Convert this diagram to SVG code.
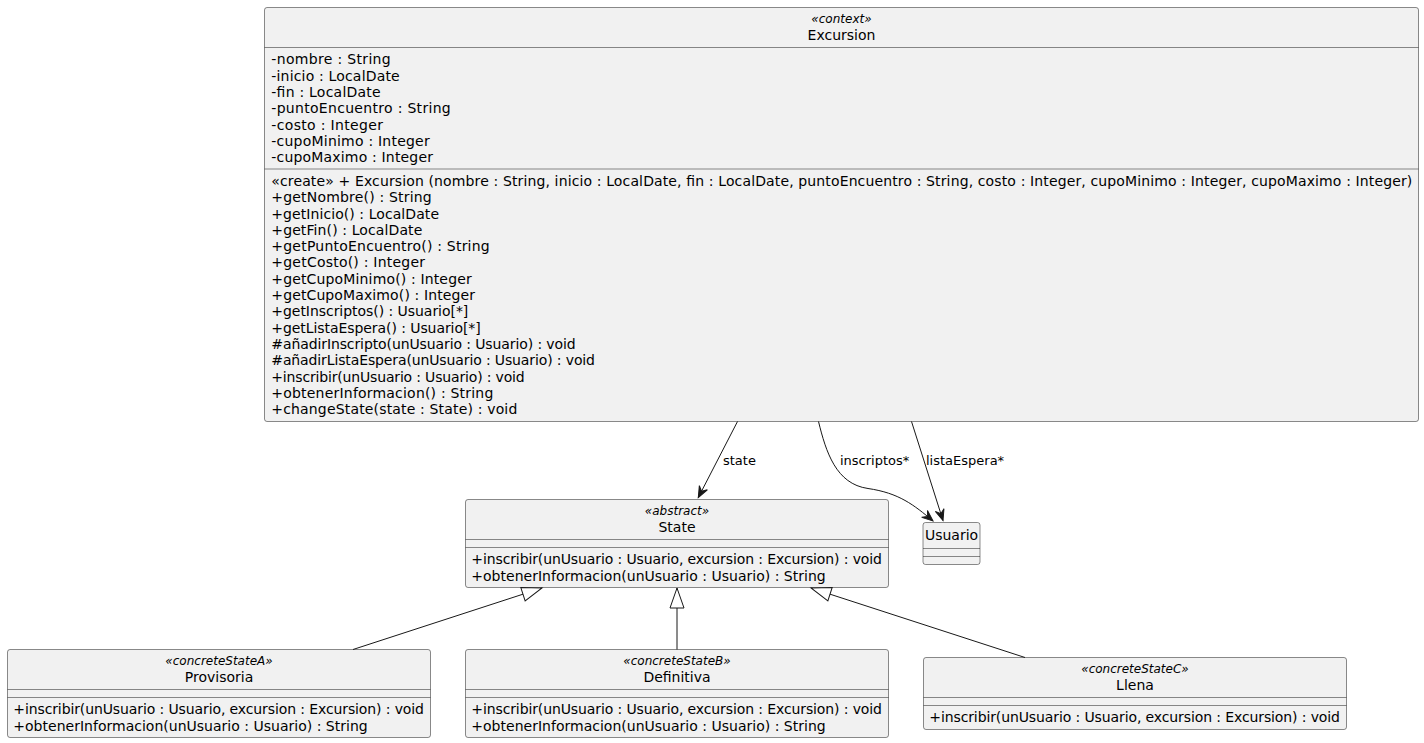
<svg xmlns="http://www.w3.org/2000/svg" width="1424" height="743" viewBox="0 0 1424 743">
  <style>
    .box { fill: #F1F1F1; stroke: #181818; stroke-width: 0.5; }
    .sep { stroke: #181818; stroke-width: 0.5; }
    .t { font-family: "DejaVu Sans", "Liberation Sans", sans-serif; font-size: 14px; fill: #000000; }
    .st { font-family: "DejaVu Sans", "Liberation Sans", sans-serif; font-size: 12px; font-style: italic; fill: #000000; }
    .c { text-anchor: middle; }
    .lbl { font-family: "DejaVu Sans", "Liberation Sans", sans-serif; font-size: 13px; fill: #000000; }
    .edge { fill: none; stroke: #181818; stroke-width: 1; }
    .assoc { marker-end: url(#vee); }
    .gen { marker-end: url(#tri); }
  </style>
  <defs>
    <marker id="vee" markerUnits="userSpaceOnUse" markerWidth="12" markerHeight="10" refX="11" refY="4.5" orient="auto" overflow="visible">
      <path d="M0,0 L11,4.5 L0,9 L4,4.5 Z" fill="#181818" stroke="#181818" stroke-width="1"/>
    </marker>
    <marker id="tri" markerUnits="userSpaceOnUse" markerWidth="22" markerHeight="16" refX="20" refY="7" orient="auto" overflow="visible">
      <path d="M0,0 L20,7 L0,14 Z" fill="#FFFFFF" stroke="#181818" stroke-width="1"/>
    </marker>
  </defs>
  <rect width="1424" height="743" fill="#FFFFFF"/>

  <!-- Excursion (context) -->
  <g id="excursion">
    <rect class="box" x="264.5" y="7.5" width="1154" height="414" rx="2.5"/>
    <text class="st c" x="841.5" y="23">«context»</text>
    <text class="t c" x="841.5" y="39.5">Excursion</text>
    <line class="sep" x1="264.5" y1="47.5" x2="1418.5" y2="47.5"/>
    <text class="t" x="271.3" y="64.4" textLength="119.4">-nombre : String</text>
    <text class="t" x="271.3" y="80.7" textLength="128.4">-inicio : LocalDate</text>
    <text class="t" x="271.3" y="97" textLength="109.4">-fin : LocalDate</text>
    <text class="t" x="271.3" y="113.3" textLength="179.4">-puntoEncuentro : String</text>
    <text class="t" x="271.3" y="129.6" textLength="111.7">-costo : Integer</text>
    <text class="t" x="271.3" y="145.9" textLength="158.4">-cupoMinimo : Integer</text>
    <text class="t" x="271.3" y="162.2" textLength="161.7">-cupoMaximo : Integer</text>
    <line class="sep" x1="264.5" y1="169" x2="1418.5" y2="169"/>
    <text class="t" x="271.3" y="185.9" textLength="1141">«create» + Excursion (nombre : String, inicio : LocalDate, fin : LocalDate, puntoEncuentro : String, costo : Integer, cupoMinimo : Integer, cupoMaximo : Integer)</text>
    <text class="t" x="271.3" y="202.2" textLength="160.4">+getNombre() : String</text>
    <text class="t" x="271.3" y="218.5" textLength="167.7">+getInicio() : LocalDate</text>
    <text class="t" x="271.3" y="234.8" textLength="151">+getFin() : LocalDate</text>
    <text class="t" x="271.3" y="251.1" textLength="218.4">+getPuntoEncuentro() : String</text>
    <text class="t" x="271.3" y="267.4" textLength="153.7">+getCosto() : Integer</text>
    <text class="t" x="271.3" y="283.7" textLength="200.4">+getCupoMinimo() : Integer</text>
    <text class="t" x="271.3" y="300" textLength="203.7">+getCupoMaximo() : Integer</text>
    <text class="t" x="271.3" y="316.3" textLength="197">+getInscriptos() : Usuario[*]</text>
    <text class="t" x="271.3" y="332.6" textLength="209.4">+getListaEspera() : Usuario[*]</text>
    <text class="t" x="271.3" y="348.9" textLength="304.4">#añadirInscripto(unUsuario : Usuario) : void</text>
    <text class="t" x="271.3" y="365.2" textLength="323.7">#añadirListaEspera(unUsuario : Usuario) : void</text>
    <text class="t" x="271.3" y="381.5" textLength="253.4">+inscribir(unUsuario : Usuario) : void</text>
    <text class="t" x="271.3" y="397.8" textLength="222">+obtenerInformacion() : String</text>
    <text class="t" x="271.3" y="414.1" textLength="246">+changeState(state : State) : void</text>
  </g>

  <!-- State (abstract) -->
  <g id="state">
    <rect class="box" x="465.5" y="499.5" width="423" height="88" rx="2.5"/>
    <text class="st c" x="677" y="515">«abstract»</text>
    <text class="t c" x="677" y="531.5">State</text>
    <line class="sep" x1="465.5" y1="539.5" x2="888.5" y2="539.5"/>
    <line class="sep" x1="465.5" y1="547.5" x2="888.5" y2="547.5"/>
    <text class="t" x="471.3" y="564.4" textLength="410.7">+inscribir(unUsuario : Usuario, excursion : Excursion) : void</text>
    <text class="t" x="471.3" y="580.7" textLength="354.4">+obtenerInformacion(unUsuario : Usuario) : String</text>
  </g>

  <!-- Usuario -->
  <g id="usuario">
    <rect class="box" x="923" y="522.5" width="57" height="42" rx="2.5"/>
    <text class="t c" x="951.5" y="540">Usuario</text>
    <line class="sep" x1="923" y1="548.5" x2="980" y2="548.5"/>
    <line class="sep" x1="923" y1="556.5" x2="980" y2="556.5"/>
  </g>

  <!-- Provisoria -->
  <g id="provisoria">
    <rect class="box" x="7.5" y="649.5" width="423" height="88" rx="2.5"/>
    <text class="st c" x="219" y="665">«concreteStateA»</text>
    <text class="t c" x="219" y="681.5">Provisoria</text>
    <line class="sep" x1="7.5" y1="689.5" x2="430.5" y2="689.5"/>
    <line class="sep" x1="7.5" y1="697.5" x2="430.5" y2="697.5"/>
    <text class="t" x="13.3" y="714.4" textLength="410.7">+inscribir(unUsuario : Usuario, excursion : Excursion) : void</text>
    <text class="t" x="13.3" y="730.7" textLength="354.4">+obtenerInformacion(unUsuario : Usuario) : String</text>
  </g>

  <!-- Definitiva -->
  <g id="definitiva">
    <rect class="box" x="465.5" y="649.5" width="423" height="88" rx="2.5"/>
    <text class="st c" x="677" y="665">«concreteStateB»</text>
    <text class="t c" x="677" y="681.5">Definitiva</text>
    <line class="sep" x1="465.5" y1="689.5" x2="888.5" y2="689.5"/>
    <line class="sep" x1="465.5" y1="697.5" x2="888.5" y2="697.5"/>
    <text class="t" x="471.3" y="714.4" textLength="410.7">+inscribir(unUsuario : Usuario, excursion : Excursion) : void</text>
    <text class="t" x="471.3" y="730.7" textLength="354.4">+obtenerInformacion(unUsuario : Usuario) : String</text>
  </g>

  <!-- Llena -->
  <g id="llena">
    <rect class="box" x="923.5" y="657.5" width="423" height="72" rx="2.5"/>
    <text class="st c" x="1135" y="673">«concreteStateC»</text>
    <text class="t c" x="1135" y="689.5">Llena</text>
    <line class="sep" x1="923.5" y1="697.5" x2="1346.5" y2="697.5"/>
    <line class="sep" x1="923.5" y1="705.5" x2="1346.5" y2="705.5"/>
    <text class="t" x="929.3" y="722.4" textLength="410.7">+inscribir(unUsuario : Usuario, excursion : Excursion) : void</text>
  </g>

  <!-- Connectors -->
  <g id="connectors">
    <path class="edge assoc" d="M737.5,421.5 L698.3,497.5"/>
    <text class="lbl" x="723" y="465">state</text>

    <path class="edge assoc" d="M818.5,421.5 C826,452 836,484 868,488.5 C899,493 914,505 933,521"/>
    <text class="lbl" x="840" y="465">inscriptos*</text>

    <path class="edge assoc" d="M911.5,421.5 L943,520.5"/>
    <text class="lbl" x="926" y="465">listaEspera*</text>

    <path class="edge gen" d="M353,649.5 L542,588"/>
    <path class="edge gen" d="M677,649.5 L677,588"/>
    <path class="edge gen" d="M1025,657.5 L811,588"/>
  </g>
</svg>
